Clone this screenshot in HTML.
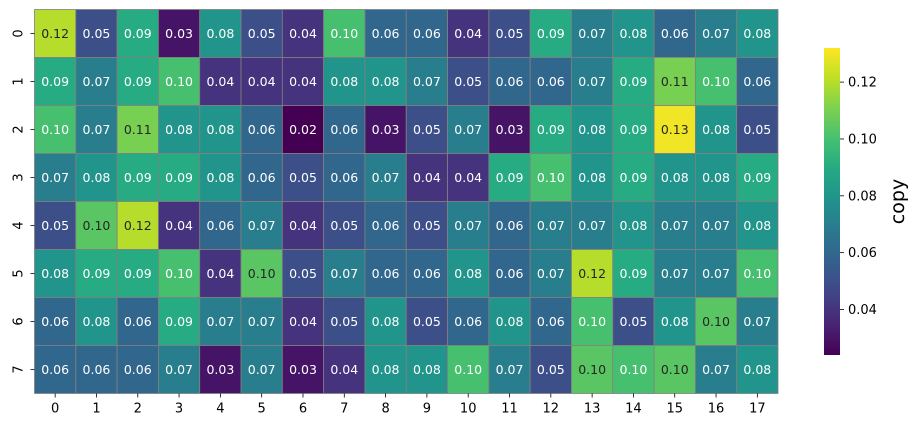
<!DOCTYPE html>
<html><head><meta charset="utf-8"><style>
body{margin:0;background:#fff;width:915px;height:428px;overflow:hidden}
text{font-family:"DejaVu Sans","Liberation Sans",sans-serif}
</style></head><body>
<svg id="c" width="915" height="428"></svg>
<script>
const rowLabels=["0","1","2","3","4","5","6","7"];
const colLabels=["0","1","2","3","4","5","6","7","8","9","10","11","12","13","14","15","16","17"];
const row0=[.12,.05,.09,.03,.08,.05,.04,.10,.06,.06,.04,.05,.09,.07,.08,.06,.07,.08];
const row1=[.09,.07,.09,.10,.04,.04,.04,.08,.08,.07,.05,.06,.06,.07,.09,.11,.10,.06];
const row2=[.10,.07,.11,.08,.08,.06,.02,.06,.03,.05,.07,.03,.09,.08,.09,.13,.08,.05];
const row3=[.07,.08,.09,.09,.08,.06,.05,.06,.07,.04,.04,.09,.10,.08,.09,.08,.08,.09];
const row4=[.05,.104,.12,.04,.06,.07,.04,.05,.06,.05,.07,.06,.07,.07,.08,.07,.07,.08];
const row5=[.08,.09,.09,.10,.04,.104,.05,.07,.06,.06,.08,.06,.07,.12,.09,.07,.07,.10];
const row6=[.06,.08,.06,.09,.07,.07,.04,.05,.08,.05,.06,.08,.06,.10,.05,.08,.104,.07];
const row7=[.06,.06,.06,.07,.03,.07,.03,.04,.08,.08,.10,.07,.05,.104,.10,.104,.07,.08];
const values=[row0,row1,row2,row3,row4,row5,row6,row7];
const cbTicks=[0.04,0.06,0.08,0.10,0.12];
const vmin=0.024,vmax=0.132;

const NS="http://www.w3.org/2000/svg";
const svg=document.getElementById('c');
function mk(t,a,p){const e=document.createElementNS(NS,t);for(const k in a)e.setAttribute(k,a[k]);(p||svg).appendChild(e);return e;}
const vir=[[68,1,84],[72,36,117],[65,68,135],[53,95,141],[42,120,142],[33,145,140],[34,168,132],[68,191,112],[122,209,81],[189,223,38],[253,231,37]];
function cmap(t){t=Math.max(0,Math.min(1,t));const s=t*10,i=Math.min(9,Math.floor(s)),f=s-i;const a=vir[i],b=vir[i+1];return [0,1,2].map(k=>Math.round(a[k]+(b[k]-a[k])*f));}
function lum(c){const l=c.map(v=>{v/=255;return v<=0.03928?v/12.92:Math.pow((v+0.055)/1.055,2.4)});return 0.2126*l[0]+0.7152*l[1]+0.0722*l[2];}
const X0=34.5,X1=778,Y0=9.5,Y1=393.5;
const cw=(X1-X0)/colLabels.length,ch=(Y1-Y0)/rowLabels.length;
const xs=j=>X0+j*cw, ys=i=>Y0+i*ch;
values.forEach((row,i)=>row.forEach((v,j)=>{
  const c=cmap((v-vmin)/(vmax-vmin));
  const r=mk('rect',{x:xs(j),y:ys(i),width:cw,height:ch,fill:`rgb(${c})`,stroke:'#808080','stroke-width':0.8});
  
  
  const t=mk('text',{x:xs(j)+cw/2,y:ys(i)+ch/2+4.5,'text-anchor':'middle','font-size':12.5,fill:lum(c)>0.408?'#262626':'#fff'});
  t.textContent=(Math.round(v*100)/100).toFixed(2);
  
  
}));
rowLabels.forEach((l,i)=>{
  const y=ys(i)+ch/2;
  mk('line',{x1:X0-4,x2:X0,y1:y,y2:y,stroke:'#000','stroke-width':0.8});
  const t=mk('text',{x:0,y:0,'text-anchor':'middle','font-size':13,transform:`translate(${X0-12},${y}) rotate(-90)`});
  t.textContent=l;
  
  
});
colLabels.forEach((l,j)=>{
  const x=xs(j)+cw/2;
  mk('line',{x1:x,x2:x,y1:Y1,y2:Y1+4,stroke:'#000','stroke-width':0.8});
  const t=mk('text',{x:x,y:Y1+19,'text-anchor':'middle','font-size':13});
  t.textContent=l;
  
  
});
const CX=824,CW=16,CT=48,CB=355;
const defs=mk('defs',{});
const g=mk('linearGradient',{id:'vg',x1:0,y1:1,x2:0,y2:0},defs);
vir.forEach((c,k)=>mk('stop',{offset:k/10,'stop-color':`rgb(${c})`},g));
const cb=mk('rect',{x:CX,y:CT,width:CW,height:CB-CT,fill:'url(#vg)'});


const cy=v=>CB-(v-vmin)/(vmax-vmin)*(CB-CT);
cbTicks.forEach(v=>{
  const y=cy(v);
  mk('line',{x1:CX+CW,x2:CX+CW+4,y1:y,y2:y,stroke:'#000','stroke-width':0.8});
  const t=mk('text',{x:CX+CW+8,y:y+4.5,'font-size':13});
  t.textContent=v.toFixed(2);
  
  
});
const tt=mk('text',{x:0,y:0,'text-anchor':'middle','font-size':19,transform:`translate(904,${(CT+CB)/2}) rotate(-90)`});
tt.textContent='copy';


</script>
</body></html>
